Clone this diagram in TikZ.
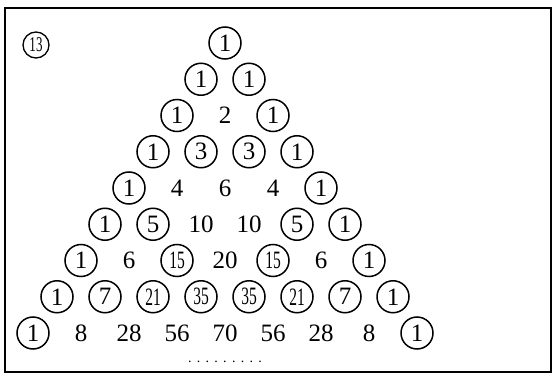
\documentclass[tikz,border=0pt]{standalone}
\usepackage{fontspec}
\setmainfont{Liberation Serif}
\usepackage{graphicx}

\begin{document}
\begin{tikzpicture}[x=1pt,y=-1pt,font=\fontsize{25}{25}\selectfont,
  ring/.style={circle,draw,line width=1.5pt,minimum size=32pt,inner sep=0pt},
  plain/.style={inner sep=0pt}]
  \useasboundingbox (0,0) rectangle (556,374);
  \draw[line width=1.1pt] (5,8) rectangle (551,372);
  \node[circle,draw,line width=1.3pt,minimum size=26pt,inner sep=0pt,
    font=\fontsize{21}{21}\selectfont] (tag) at (36,45) {\scalebox{0.62}[1]{13}};
  % rows of the triangle, odd entries circled
  \foreach \r/\row in {0/{1}, 1/{1,1}, 2/{1,2,1}, 3/{1,3,3,1}, 4/{1,4,6,4,1},
      5/{1,5,10,10,5,1}, 6/{1,6,15,20,15,6,1}, 7/{1,7,21,35,35,21,7,1},
      8/{1,8,28,56,70,56,28,8,1}}
    \foreach \v [count=\k from 0] in \row
      {\ifodd\v
         \node[ring] (n\r-\k) at ({225+48*(\k-\r/2)},{43+36.25*\r})
           {\ifnum\v>9 \scalebox{0.62}[1]{\v}\else\v\fi};
       \else
         \node[plain] (n\r-\k) at ({225+48*(\k-\r/2)},{43+36.25*\r}) {\v};
       \fi}
  \node[plain,font=\fontsize{14}{14}\selectfont] (dots) at (225,362)
    {\makebox[74pt][s]{. . . . . . . . .}};
\end{tikzpicture}
\end{document}
